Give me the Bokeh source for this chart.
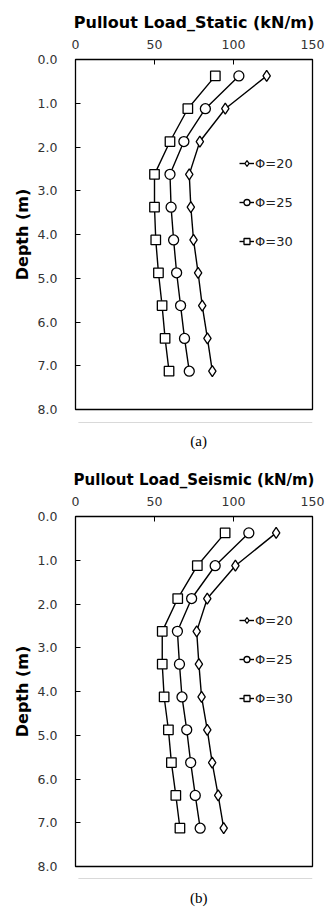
from bokeh.plotting import figure
from bokeh.layouts import column
from bokeh.models import Range1d, FixedTicker, NumeralTickFormatter, Legend, LegendItem
from bokeh.embed import file_html
from bokeh.resources import INLINE
from bokeh.core.properties import value

depth = [0.375, 1.125, 1.875, 2.625, 3.375, 4.125, 4.875, 5.625, 6.375, 7.125]

static_phi20 = [121.0, 94.8, 78.7, 72.0, 73.0, 74.7, 77.6, 80.2, 83.5, 86.6]
static_phi25 = [103.4, 82.2, 68.6, 59.8, 60.5, 62.1, 64.0, 66.5, 69.0, 72.0]
static_phi30 = [88.5, 71.1, 59.8, 50.0, 50.0, 50.8, 52.5, 54.8, 56.7, 59.2]

seismic_phi20 = [127.0, 101.2, 83.4, 76.7, 78.1, 79.8, 83.4, 86.5, 90.3, 93.8]
seismic_phi25 = [109.7, 88.4, 73.5, 64.5, 65.8, 67.4, 70.4, 72.9, 75.8, 78.9]
seismic_phi30 = [94.7, 77.1, 64.7, 54.9, 54.9, 56.1, 58.8, 60.7, 63.5, 66.1]

series_labels = ["\u03a6=20", "\u03a6=25", "\u03a6=30"]
x_ticks = [0, 50, 100, 150]
y_ticks = [0, 1, 2, 3, 4, 5, 6, 7, 8]

FONT = "DejaVu Sans"
W = 331


def make_chart(title, s20, s25, s30, height, bl, br, bt, bb, title_size):
    p = figure(width=W, height=height, output_backend="svg", toolbar_location=None,
               x_range=Range1d(0, 150), y_range=Range1d(8, 0),
               x_axis_location="above", min_border_left=bl, min_border_right=br,
               min_border_top=bt, min_border_bottom=bb)
    p.xgrid.visible = False
    p.ygrid.visible = False
    p.outline_line_color = "black"
    p.outline_line_width = 1.3
    p.background_fill_color = "white"
    p.border_fill_color = "white"

    xa = p.xaxis[0]
    xa.ticker = FixedTicker(ticks=x_ticks)
    xa.axis_label = title
    xa.axis_label_text_font = FONT
    xa.axis_label_text_font_style = "bold"
    xa.axis_label_text_font_size = title_size
    xa.axis_label_text_color = "black"
    xa.axis_label_standoff = 5
    xa.major_label_text_font = FONT
    xa.major_label_text_font_size = "12.5px"
    xa.major_label_text_color = "#333333"
    xa.major_label_standoff = 11
    xa.major_tick_in = 5
    xa.major_tick_out = 0
    xa.minor_tick_in = 0
    xa.minor_tick_out = 0
    xa.axis_line_color = None
    xa.major_tick_line_color = "black"

    ya = p.yaxis[0]
    ya.ticker = FixedTicker(ticks=y_ticks)
    ya.formatter = NumeralTickFormatter(format="0.0")
    ya.axis_label = "Depth (m)"
    ya.axis_label_text_font = FONT
    ya.axis_label_text_font_style = "bold"
    ya.axis_label_text_font_size = "16px"
    ya.axis_label_text_color = "black"
    ya.axis_label_standoff = 3
    ya.major_label_text_font = FONT
    ya.major_label_text_font_size = "12.5px"
    ya.major_label_text_color = "#333333"
    ya.major_label_standoff = 18
    ya.major_tick_in = 5
    ya.major_tick_out = 0
    ya.minor_tick_in = 0
    ya.minor_tick_out = 0
    ya.axis_line_color = None
    ya.major_tick_line_color = "black"

    items = []
    specs = [(s20, "diamond", 11), (s25, "circle", 10), (s30, "square", 9.5)]
    for vals, marker, size in specs:
        r1 = p.line(vals, depth, line_color="black", line_width=1.4)
        r2 = p.scatter(vals, depth, marker=marker, size=size,
                       fill_color="white", line_color="black", line_width=1.3)
        items.append((r1, r2))

    legend = Legend(items=[LegendItem(label=lab, renderers=list(rs))
                           for lab, rs in zip(series_labels, items)],
                    location=(164, 160), orientation="vertical",
                    glyph_width=15, glyph_height=16, label_height=16,
                    spacing=23, label_standoff=1, padding=0, margin=0,
                    border_line_color=None, background_fill_alpha=0,
                    label_text_font=FONT, label_text_font_size="13px",
                    label_text_color="#222222")
    p.add_layout(legend)
    return p


def make_caption(text, height, line_y, text_y):
    c = figure(width=W, height=height, output_backend="svg", toolbar_location=None,
               x_range=Range1d(0, W), y_range=Range1d(height, 0),
               min_border=0, outline_line_color=None)
    c.axis.visible = False
    c.grid.visible = False
    c.segment(x0=[4], y0=[line_y], x1=[W], y1=[line_y], line_color="#d9d9d9", line_width=1)
    c.text(x=[172], y=[text_y], text=[text], text_align="center", text_baseline="middle",
           text_font=value("Liberation Serif"), text_font_size="15px", text_color="black")
    return c


pa = make_chart("Pullout Load_Static (kN/m)", static_phi20, static_phi25, static_phi30,
                height=420, bl=73, br=19, bt=59, bb=11, title_size="16px")
ca = make_caption("(a)", 30, 2, 20)
pb = make_chart("Pullout Load_Seismic (kN/m)", seismic_phi20, seismic_phi25, seismic_phi30,
                height=426, bl=75, br=18, bt=66, bb=10, title_size="15px")
cb = make_caption("(b)", 32, 2, 21)

layout = column(pa, ca, pb, cb, spacing=0)

with open("out.html", "w") as f:
    f.write(file_html(layout, INLINE))
